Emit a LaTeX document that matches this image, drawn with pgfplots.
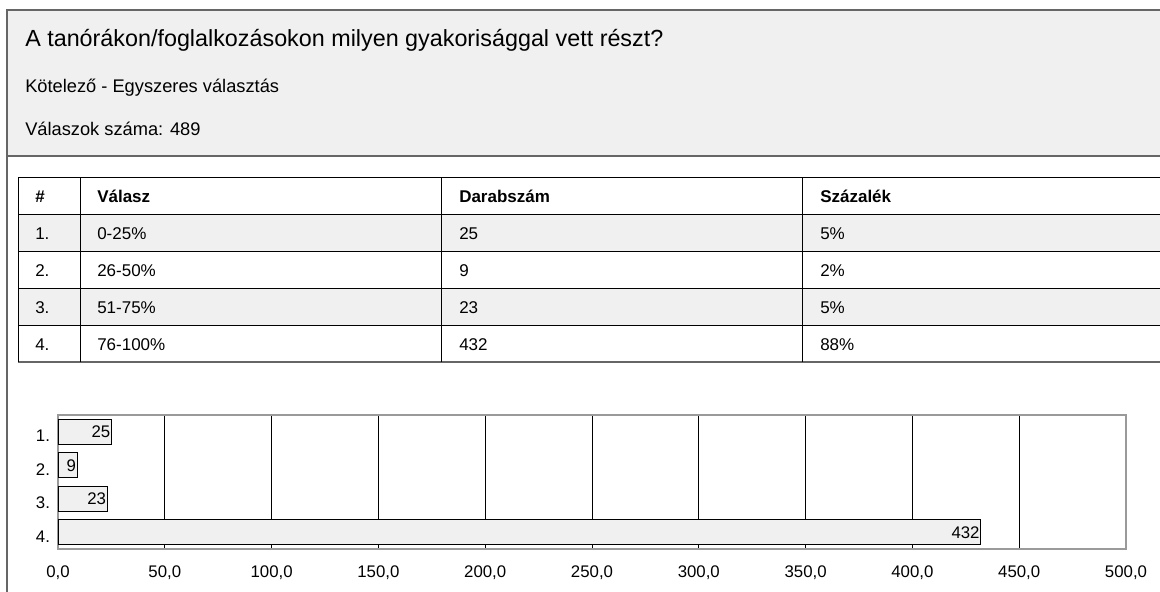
\documentclass[border=0pt]{standalone}
\usepackage{fontspec}
\setmainfont{Liberation Sans}
\usepackage{pgfplots}
\pgfplotsset{compat=1.18}
\definecolor{panel}{HTML}{F0F0F0}
\definecolor{frame}{HTML}{666666}
\definecolor{axisgray}{HTML}{9A9A9A}

\begin{document}
\begin{tikzpicture}
\begin{scope}[x=0.75pt,y=-0.75pt]
  % fejlec
  \fill[panel] (7,10) rectangle (1160,156);
  \draw[frame, line width=1pt] (1160,10) -- (7,10) -- (7,592);
  \draw[frame, line width=1pt] (7,156) -- (1160,156);
  \node[anchor=base west, inner sep=0, font=\fontsize{17.5}{20}\selectfont] at (25,47)
    {A tanórákon/foglalkozásokon milyen gyakorisággal vett részt?};
  \node[anchor=base west, inner sep=0, font=\fontsize{13.7}{16}\selectfont] at (25,93)
    {Kötelező - Egyszeres választás};
  \node[anchor=base west, inner sep=0, font=\fontsize{13.7}{16}\selectfont] at (25,135)
    {Válaszok száma: 489};
  % tablazat
  \fill[panel] (18,214) rectangle (1160,251);
  \fill[panel] (18,288) rectangle (1160,325);
  \foreach \y in {177,214,251,288,325} \draw[line width=0.75pt] (18,\y) -- (1160,\y);
  \draw[frame, line width=1.2pt] (18,362) -- (1160,362);
  \foreach \x in {18,80,441,802} \draw[line width=0.75pt] (\x,177) -- (\x,362);
  \begin{scope}[every node/.style={anchor=base west, inner sep=0, font=\fontsize{12.75}{15}\selectfont}]
    \node[font=\fontsize{12.75}{15}\selectfont\bfseries] at (35,202) {\#};
    \node[font=\fontsize{12.75}{15}\selectfont\bfseries] at (97,202) {Válasz};
    \node[font=\fontsize{12.75}{15}\selectfont\bfseries] at (459,202) {Darabszám};
    \node[font=\fontsize{12.75}{15}\selectfont\bfseries] at (820,202) {Százalék};
    \node at (35,239) {1.}; \node at (97,239) {0-25\%};   \node at (459,239) {25};  \node at (820,239) {5\%};
    \node at (35,276) {2.}; \node at (97,276) {26-50\%};  \node at (459,276) {9};   \node at (820,276) {2\%};
    \node at (35,313) {3.}; \node at (97,313) {51-75\%};  \node at (459,313) {23};  \node at (820,313) {5\%};
    \node at (35,350) {4.}; \node at (97,350) {76-100\%}; \node at (459,350) {432}; \node at (820,350) {88\%};
  \end{scope}
  \coordinate (chartpos) at (58,549);
\end{scope}

\begin{axis}[
    at={(chartpos)}, anchor=south west,
    scale only axis,
    width=801pt, height=100.5pt,
    xbar, bar width=19pt,
    xmin=0, xmax=500, ymin=0.5, ymax=4.5,
    y dir=reverse,
    xtick={0,50,...,500},
    ytick={1,2,3,4}, yticklabels={1.,2.,3.,4.},
    xmajorgrids,
    grid style={black, line width=0.75pt},
    axis line style={axisgray, line width=2pt},
    major tick length=0pt,
    /pgf/number format/assume math mode=true,
    tick label style={font=\fontsize{12.6}{15}\selectfont},
    xticklabel style={yshift=-9pt, /pgf/number format/.cd, fixed, fixed zerofill, precision=1, use comma},
    yticklabel style={xshift=-2.5pt, yshift=-3pt},
    nodes near coords,
    point meta=x,
    nodes near coords style={anchor=east, inner sep=0.5pt, font=\fontsize{12.6}{15}\selectfont},
]
\addplot[fill=panel, draw=black, line width=0.75pt] coordinates {(25,1) (9,2) (23,3) (432,4)};
\end{axis}

\begin{scope}[x=0.75pt,y=-0.75pt]
  \pgfresetboundingbox
  \path[use as bounding box] (0,0) rectangle (1160,592);
\end{scope}
\end{tikzpicture}
\end{document}
